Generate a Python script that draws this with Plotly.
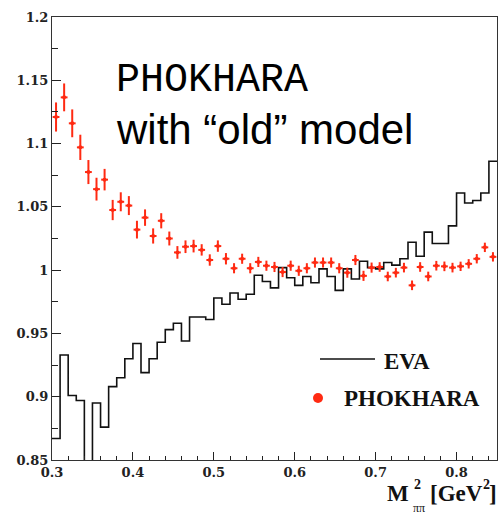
import plotly.graph_objects as go

# ---- data ----
bin_lo = [0.30, 0.31, 0.32, 0.33, 0.34, 0.35, 0.36, 0.37, 0.38, 0.39,
          0.40, 0.41, 0.42, 0.43, 0.44, 0.45, 0.46, 0.47, 0.48, 0.49,
          0.50, 0.51, 0.52, 0.53, 0.54, 0.55, 0.56, 0.57, 0.58, 0.59,
          0.60, 0.61, 0.62, 0.63, 0.64, 0.65, 0.66, 0.67, 0.68, 0.69,
          0.70, 0.71, 0.72, 0.73, 0.74, 0.75, 0.76, 0.77, 0.78, 0.79,
          0.80, 0.81, 0.82, 0.83, 0.84]
bin_hi_last = 0.85

eva = [0.867, 0.933, 0.901, 0.897, 0.840, 0.895, 0.876, 0.908, 0.915, 0.930,
       0.942, 0.919, 0.930, 0.943, 0.953, 0.958, 0.944, 0.963, 0.963, 0.961,
       0.978, 0.973, 0.982, 0.977, 0.981, 0.996, 0.991, 0.986, 1.002, 0.994,
       0.988, 0.995, 0.990, 1.001, 0.995, 0.984, 1.001, 0.993, 1.007, 1.002,
       1.001, 1.006, 1.004, 1.009, 1.022, 1.011, 1.030, 1.021, 1.021, 1.035,
       1.061, 1.053, 1.055, 1.061, 1.086]

bin_center = [0.305, 0.315, 0.325, 0.335, 0.345, 0.355, 0.365, 0.375, 0.385, 0.395,
              0.405, 0.415, 0.425, 0.435, 0.445, 0.455, 0.465, 0.475, 0.485, 0.495,
              0.505, 0.515, 0.525, 0.535, 0.545, 0.555, 0.565, 0.575, 0.585, 0.595,
              0.605, 0.615, 0.625, 0.635, 0.645, 0.655, 0.665, 0.675, 0.685, 0.695,
              0.705, 0.715, 0.725, 0.735, 0.745, 0.755, 0.765, 0.775, 0.785, 0.795,
              0.805, 0.815, 0.825, 0.835, 0.845]

phokhara = [1.121, 1.1365, 1.116, 1.097, 1.0775, 1.064, 1.0715, 1.0475, 1.054, 1.051,
            1.032, 1.0415, 1.027, 1.039, 1.025, 1.014, 1.0185, 1.019, 1.016, 1.008,
            1.019, 1.009, 1.0015, 1.009, 1.0015, 1.0065, 1.0035, 1.0025, 0.9985, 1.0035,
            0.9995, 1.0015, 1.006, 1.006, 1.006, 1.0015, 0.998, 1.008, 0.9955, 1.002,
            1.0025, 0.995, 0.998, 1.002, 0.988, 1.0025, 0.995, 1.0035, 1.003, 1.002,
            1.003, 1.005, 1.009, 1.018, 1.0105]

phokhara_err = [0.0115, 0.011, 0.011, 0.010, 0.0095, 0.009, 0.0085, 0.008, 0.0075, 0.0075,
                0.007, 0.0065, 0.006, 0.006, 0.0055, 0.005, 0.005, 0.005, 0.0045, 0.0045,
                0.0045, 0.0045, 0.004, 0.004, 0.004, 0.004, 0.004, 0.004, 0.004, 0.004,
                0.004, 0.004, 0.004, 0.004, 0.004, 0.004, 0.004, 0.004, 0.004, 0.004,
                0.0038, 0.0038, 0.0038, 0.0038, 0.0038, 0.0038, 0.0038, 0.0038, 0.0038, 0.0038,
                0.0037, 0.0037, 0.0037, 0.0037, 0.0037]
phokhara_xerr = 0.0042

RED = "#ff2a12"

# ---- figure ----
fig = go.Figure()

fig.add_trace(go.Scatter(
    x=bin_lo + [bin_hi_last], y=eva + [eva[-1]],
    mode="lines", line=dict(color="#111111", width=1.6, shape="hv"),
    showlegend=False, hoverinfo="skip"))

fig.add_trace(go.Scatter(
    x=bin_center, y=phokhara, mode="markers",
    marker=dict(color=RED, size=4),
    error_y=dict(type="data", array=phokhara_err, color=RED, thickness=2, width=0),
    error_x=dict(type="constant", value=phokhara_xerr, color=RED, thickness=2, width=0),
    showlegend=False, cliponaxis=True))

L, R, T, B = 52, 4, 17, 55
W, H = 501, 515
PW, PH = W - L - R, H - T - B


def px(x):
    return (x - L) / PW


def py(y):
    return (H - B - y) / PH


tickfont = dict(family="DejaVu Serif", size=13, color="#222222", weight="bold")

fig.update_layout(
    width=W, height=H,
    margin=dict(l=L, r=R, t=T, b=B, pad=0),
    paper_bgcolor="white", plot_bgcolor="white",
    xaxis=dict(range=[0.3, 0.85], dtick=0.1, tick0=0.3, ticks="inside", ticklen=8,
               tickwidth=1.2, tickcolor="#222", showgrid=False, zeroline=False,
               showline=True, linecolor="#333", linewidth=1.3, mirror=True,
               tickfont=tickfont,
               minor=dict(dtick=0.02, tick0=0.3, ticks="inside", ticklen=4,
                          tickcolor="#222", showgrid=False)),
    yaxis=dict(range=[0.85, 1.2], dtick=0.05, tick0=0.85, ticks="inside", ticklen=9,
               tickwidth=1.2, tickcolor="#222", showgrid=False, zeroline=False,
               showline=True, linecolor="#333", linewidth=1.3, mirror=True,
               tickfont=tickfont,
               minor=dict(dtick=0.025, tick0=0.85, ticks="inside", ticklen=6,
                          tickcolor="#222", showgrid=False)),
)

ann = []
# overlay titles
ann.append(dict(text="PHOKHARA", x=px(114), y=py(81), xref="paper", yref="paper",
                xanchor="left", yanchor="middle", showarrow=False,
                font=dict(family="Liberation Mono", size=40, color="black")))
ann.append(dict(text="with \u201cold\u201d model", x=px(114), y=py(129), xref="paper", yref="paper",
                xanchor="left", yanchor="middle", showarrow=False,
                font=dict(family="Liberation Sans", size=42, color="black")))
# legend
legfont = dict(family="Liberation Serif", size=23, color="#111", weight="bold")
ann.append(dict(text="EVA", x=px(382), y=py(361), xref="paper", yref="paper",
                xanchor="left", yanchor="middle", showarrow=False, font=legfont))
ann.append(dict(text="PHOKHARA", x=px(342), y=py(398), xref="paper", yref="paper",
                xanchor="left", yanchor="middle", showarrow=False, font=legfont))
# x-axis title
tfont = dict(family="Liberation Serif", size=23, color="#111", weight="bold")
supfont = dict(family="Liberation Serif", size=14, color="#111", weight="bold")
ann.append(dict(text="M", x=px(411), y=py(493), xref="paper", yref="paper",
                xanchor="right", yanchor="middle", showarrow=False, font=tfont))
ann.append(dict(text="2", x=px(412), y=py(484), xref="paper", yref="paper",
                xanchor="left", yanchor="middle", showarrow=False, font=supfont))
ann.append(dict(text="\u03c0\u03c0", x=px(411), y=py(508), xref="paper", yref="paper",
                xanchor="left", yanchor="middle", showarrow=False,
                font=dict(family="Liberation Serif", size=12, color="#111")))
ann.append(dict(text="[GeV", x=px(428), y=py(493), xref="paper", yref="paper",
                xanchor="left", yanchor="middle", showarrow=False, font=tfont))
ann.append(dict(text="2", x=px(481), y=py(484), xref="paper", yref="paper",
                xanchor="left", yanchor="middle", showarrow=False, font=supfont))
ann.append(dict(text="]", x=px(499), y=py(493), xref="paper", yref="paper",
                xanchor="right", yanchor="middle", showarrow=False, font=tfont))
fig.update_layout(annotations=ann)

fig.update_layout(shapes=[
    dict(type="line", xref="paper", yref="paper", x0=px(320), x1=px(375),
         y0=py(359), y1=py(359), line=dict(color="#111", width=1.3)),
    dict(type="circle", xref="paper", yref="paper", x0=px(313), x1=px(323),
         y0=py(403), y1=py(393), fillcolor=RED, line=dict(color=RED, width=0)),
])

fig.write_html("out.html")
